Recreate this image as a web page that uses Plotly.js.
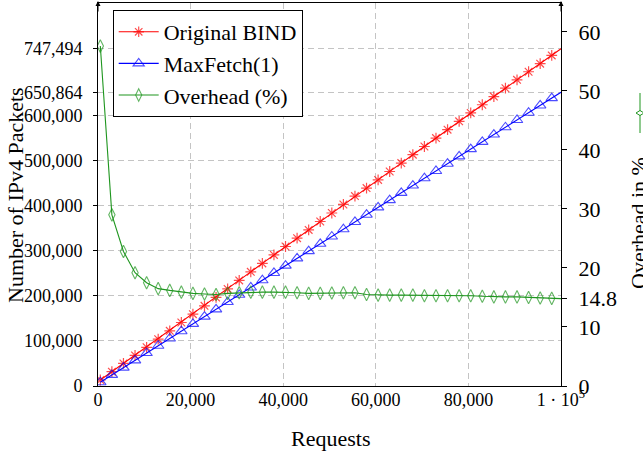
<!DOCTYPE html>
<html>
<head>
<meta charset="utf-8">
<script src="https://cdn.plot.ly/plotly-3.0.1.min.js"></script>
<style>html,body{margin:0;padding:0;background:#fff;}#chart{width:643px;height:452px;}</style>
</head>
<body>
<div id="chart"></div>
<script>
// Requests (x values); the last point (100000) is drawn without a mark
const requests = [500, 3000, 5500, 8000, 10500, 13000, 15500, 18000, 20500, 23000,
  25500, 28000, 30500, 33000, 35500, 38000, 40500, 43000, 45500, 48000,
  50500, 53000, 55500, 58000, 60500, 63000, 65500, 68000, 70500, 73000,
  75500, 78000, 80500, 83000, 85500, 88000, 90500, 93000, 95500, 98000, 100000];

const originalBind = [13339, 31739, 50034, 67806, 85803, 103876, 122363, 140754, 159185, 177705,
  196193, 215207, 234083, 252991, 271697, 290404, 309110, 327533, 345924, 364598,
  383438, 402294, 420984, 438535, 456781, 475406, 494032, 512658, 530823, 549432,
  568042, 586651, 605260, 623329, 641365, 659942, 678519, 696491, 714430, 732656, 747494];

const maxFetch = [8464, 24604, 40744, 56884, 73024, 89164, 105304, 121444, 137584, 153724,
  169864, 186004, 202144, 218284, 234424, 250564, 266704, 282844, 298984, 315124,
  331264, 347404, 363544, 379684, 395824, 411964, 428104, 444244, 460384, 476524,
  492664, 508804, 524944, 541084, 557224, 573364, 589504, 605644, 621784, 637924, 650864];

const overheadPct = [57.6, 29.0, 22.8, 19.2, 17.5, 16.5, 16.2, 15.9, 15.7, 15.6,
  15.5, 15.7, 15.8, 15.9, 15.9, 15.9, 15.9, 15.8, 15.7, 15.7,
  15.75, 15.8, 15.8, 15.5, 15.4, 15.4, 15.4, 15.4, 15.3, 15.3,
  15.3, 15.3, 15.3, 15.2, 15.1, 15.1, 15.1, 15.0, 14.9, 14.85, 14.8];

const xTickVals = [0, 20000, 40000, 60000, 80000, 100000];
const xTickText = ['0', '20,000', '40,000', '60,000', '80,000', '1 · 10<sup>5</sup>'];
const yTickVals = [0, 100000, 200000, 300000, 400000, 500000, 600000, 650864, 747494];
const yTickText = ['0', '100,000', '200,000', '300,000', '400,000', '500,000', '600,000', '650,864', '747,494'];
const y2TickVals = [0, 10, 14.8, 20, 30, 40, 50, 60];
const y2TickText = ['0', '10', '14.8', '20', '30', '40', '50', '60'];

const FONT = 'Liberation Serif';
const RED = '#ff0000', BLUE = '#0000ff', GREEN = '#1f961f';

function sizes(s) { return requests.map((_, i) => (i === requests.length - 1 ? 0 : s)); }

const traces = [
  {
    x: requests, y: originalBind, name: 'Original BIND', type: 'scatter', mode: 'lines+markers',
    line: {color: RED, width: 1.1},
    marker: {symbol: 'asterisk-open', size: sizes(9), color: RED, line: {color: RED, width: 1.2}}
  },
  {
    x: requests, y: maxFetch, name: 'MaxFetch(1)', type: 'scatter', mode: 'lines+markers',
    line: {color: BLUE, width: 1.1},
    marker: {symbol: 'triangle-up-open', size: sizes(10), color: BLUE, line: {color: BLUE, width: 1.1}}
  },
  {
    x: requests, y: overheadPct, name: 'Overhead (%)', type: 'scatter', mode: 'lines+markers',
    yaxis: 'y2',
    line: {color: GREEN, width: 1.1},
    marker: {symbol: 'diamond-tall-open', size: sizes(9), color: GREEN, line: {color: GREEN, width: 1.1}}
  }
];

const L = 98, T = 3, W = 463, H = 383;
function px(x) { return (x - L) / W; }
function py(y) { return (T + H - y) / H; }

const layout = {
  width: 643, height: 452,
  margin: {l: L, r: 643 - L - W, t: T, b: 452 - T - H, pad: 0},
  paper_bgcolor: '#fff', plot_bgcolor: '#fff',
  font: {family: FONT, color: '#000', size: 18},
  showlegend: true,
  legend: {
    x: px(112.7), y: py(10), xanchor: 'left', yanchor: 'top',
    bgcolor: '#fff', bordercolor: '#000', borderwidth: 1,
    font: {family: FONT, size: 22, color: '#000'},
    itemwidth: 40, tracegroupgap: 0
  },
  xaxis: {
    range: [0, 100000], tickvals: xTickVals, ticktext: xTickText,
    showgrid: true, gridcolor: '#c4c4c4', griddash: '6px,4px', gridwidth: 1,
    showline: true, linecolor: '#000', linewidth: 1, mirror: true,
    ticks: '', zeroline: false, ticklabelstandoff: -3,
    tickfont: {family: FONT, size: 18, color: '#000'}
  },
  yaxis: {
    range: [0, 848800], tickvals: yTickVals, ticktext: yTickText,
    showgrid: true, gridcolor: '#c4c4c4', griddash: '6px,4px', gridwidth: 1,
    showline: true, linecolor: '#000', linewidth: 1,
    ticks: 'outside', ticklen: 4, tickcolor: '#000', zeroline: false,
    ticklabelstandoff: 7,
    tickfont: {family: FONT, size: 18, color: '#000'}
  },
  yaxis2: {
    range: [0, 64.9], tickvals: y2TickVals, ticktext: y2TickText,
    overlaying: 'y', side: 'right', showgrid: false,
    showline: true, linecolor: '#000', linewidth: 1,
    ticks: 'outside', ticklen: 5, tickcolor: '#000', zeroline: false,
    ticklabelstandoff: 7,
    tickfont: {family: FONT, size: 22, color: '#000'}
  },
  annotations: [
    {text: 'Requests', xref: 'paper', yref: 'paper', x: px(330), y: py(438),
     xanchor: 'center', yanchor: 'middle', showarrow: false, font: {family: FONT, size: 22}},
    {text: 'Number of IPv4 Packets', xref: 'paper', yref: 'paper', x: px(15), y: py(195),
     xanchor: 'center', yanchor: 'middle', textangle: -90, showarrow: false, font: {family: FONT, size: 22}},
    {text: 'Overhead in %', xref: 'paper', yref: 'paper', x: px(638), y: py(223),
     xanchor: 'center', yanchor: 'middle', textangle: -90, showarrow: false, font: {family: FONT, size: 22}},
    {text: '', xref: 'paper', yref: 'paper', x: 0, y: 1, yshift: 2, showarrow: true,
     ax: 0, ay: 12, arrowhead: 2, arrowsize: 1, arrowwidth: 1, arrowcolor: '#000', standoff: 0},
    {text: '', xref: 'paper', yref: 'paper', x: 1, y: 1, yshift: 2, showarrow: true,
     ax: 0, ay: 12, arrowhead: 2, arrowsize: 1, arrowwidth: 1, arrowcolor: '#000', standoff: 0}
  ],
  shapes: [
    {type: 'line', xref: 'paper', yref: 'paper', x0: px(640), x1: px(640), y0: py(93), y1: py(133),
     line: {color: GREEN, width: 1}},
    {type: 'path', xref: 'paper', yref: 'paper',
     path: 'M ' + px(636) + ' ' + py(113) + ' L ' + px(640) + ' ' + py(110.5) + ' L ' + px(644) + ' ' + py(113) +
           ' L ' + px(640) + ' ' + py(115.5) + ' Z',
     line: {color: GREEN, width: 1}, fillcolor: '#fff'}
  ]
};

Plotly.newPlot('chart', traces, layout, {displayModeBar: false, staticPlot: true});
</script>
</body>
</html>
